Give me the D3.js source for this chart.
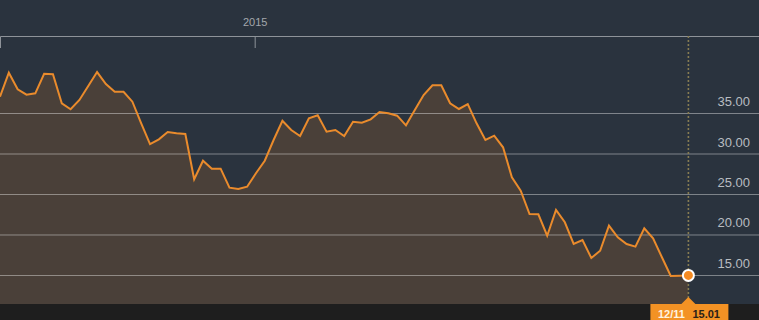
<!DOCTYPE html>
<html>
<head>
<meta charset="utf-8">
<script src="https://cdn.jsdelivr.net/npm/d3@7/dist/d3.min.js"></script>
<style>
  html, body { margin: 0; padding: 0; background: #2a333e; }
  svg { display: block; }
</style>
</head>
<body>
<div id="chart"></div>
<script>
const dates = [
  "2014-06-13","2014-06-20","2014-06-27","2014-07-04","2014-07-11","2014-07-18","2014-07-25",
  "2014-08-01","2014-08-08","2014-08-15","2014-08-22","2014-08-29","2014-09-05","2014-09-12",
  "2014-09-19","2014-09-26","2014-10-03","2014-10-10","2014-10-17","2014-10-24","2014-10-31",
  "2014-11-07","2014-11-14","2014-11-21","2014-11-28","2014-12-05","2014-12-12","2014-12-19",
  "2014-12-26","2015-01-02","2015-01-09","2015-01-16","2015-01-23","2015-01-30","2015-02-06",
  "2015-02-13","2015-02-20","2015-02-27","2015-03-06","2015-03-13","2015-03-20","2015-03-27",
  "2015-04-03","2015-04-10","2015-04-17","2015-04-24","2015-05-01","2015-05-08","2015-05-15",
  "2015-05-22","2015-05-29","2015-06-05","2015-06-12","2015-06-19","2015-06-26","2015-07-03",
  "2015-07-10","2015-07-17","2015-07-24","2015-07-31","2015-08-07","2015-08-14","2015-08-21",
  "2015-08-28","2015-09-04","2015-09-11","2015-09-18","2015-09-25","2015-10-02","2015-10-09",
  "2015-10-16","2015-10-23","2015-10-30","2015-11-06","2015-11-13","2015-11-20","2015-11-27",
  "2015-12-04","2015-12-11"
];
const prices = [
  37.07, 40.04, 37.99, 37.32, 37.49, 39.91, 39.84, 36.26, 35.52, 36.67,
  38.40, 40.12, 38.64, 37.69, 37.69, 36.46, 33.79, 31.23, 31.81, 32.72,
  32.56, 32.47, 26.88, 29.17, 28.19, 28.19, 25.84, 25.68, 25.96, 27.62,
  29.17, 31.73, 34.11, 32.96, 32.22, 34.41, 34.78, 32.75, 32.96, 32.22,
  33.99, 33.87, 34.28, 35.19, 35.02, 34.73, 33.54, 35.43, 37.28, 38.48,
  38.48, 36.26, 35.56, 36.17, 33.79, 31.73, 32.26, 30.83, 27.12, 25.47,
  22.59, 22.56, 19.91, 23.09, 21.57, 18.89, 19.38, 17.16, 18.06, 21.15,
  19.72, 18.89, 18.56, 20.83, 19.59, 17.25, 14.95, 14.97, 15.01
];
const yTicks = [15, 20, 25, 30, 35];
const xTickDates = ["2015-01-01"];
const xTickLabels = ["2015"];
const lastLabelDate = "12/11";
const lastLabelValue = "15.01";

const W = 759, H = 320;
const plotTop = 36, plotBottom = 304;
const parse = d3.timeParse("%Y-%m-%d");
const data = dates.map((d, i) => ({ date: parse(d), value: prices[i] }));

const x = d3.scaleTime()
  .domain([parse("2014-06-13"), parse("2016-02-05")])
  .range([0, W]);
const y = d3.scaleLinear()
  .domain([11.48, 44.57])
  .range([plotBottom, plotTop]);

const svg = d3.select("#chart").append("svg")
  .attr("width", W).attr("height", H);

svg.append("rect").attr("x", 0).attr("y", 0).attr("width", W).attr("height", H)
  .attr("fill", "#2a333e");

// area
const area = d3.area()
  .x(d => x(d.date))
  .y0(plotBottom)
  .y1(d => y(d.value));
svg.append("path").datum(data).attr("d", area).attr("fill", "#4a4039");

// gridlines
svg.append("g").selectAll("line").data(yTicks).join("line")
  .attr("x1", 0).attr("x2", W)
  .attr("y1", d => y(d)).attr("y2", d => y(d))
  .attr("stroke", "#ffffff").attr("stroke-opacity", 0.4).attr("stroke-width", 1);

// y labels
svg.append("g").selectAll("text").data(yTicks).join("text")
  .attr("x", 750).attr("y", d => y(d) - 7.5)
  .attr("text-anchor", "end")
  .attr("font-family", "'Liberation Sans', Arial, sans-serif")
  .attr("font-size", 13)
  .attr("fill", "#b8bcc1")
  .text(d => d.toFixed(2));

// line
const line = d3.line().x(d => x(d.date)).y(d => y(d.value));
svg.append("path").datum(data).attr("d", line)
  .attr("fill", "none").attr("stroke", "#ea8b2c").attr("stroke-width", 2);

// top axis
const xAxis = d3.axisTop(x)
  .tickValues(xTickDates.map(parse))
  .tickFormat((d, i) => xTickLabels[i])
  .tickSize(-12).tickSizeOuter(-12).tickPadding(10);
const gx = svg.append("g").attr("transform", `translate(0,${plotTop})`).call(xAxis);
gx.select(".domain").attr("stroke", "#8e9399");
gx.selectAll(".tick line").attr("stroke", "#8e9399");
gx.selectAll(".tick text")
  .attr("fill", "#a3a7ac")
  .attr("font-family", "'Liberation Sans', Arial, sans-serif")
  .attr("font-size", 11)
  .attr("dy", "0em");

// bottom band
svg.append("rect").attr("x", 0).attr("y", plotBottom).attr("width", W).attr("height", H - plotBottom)
  .attr("fill", "#1e1e1e");

const last = data[data.length - 1];
const lx = x(last.date), ly = y(last.value);

// dotted crosshair
svg.append("line")
  .attr("x1", lx).attr("x2", lx).attr("y1", plotTop).attr("y2", plotBottom)
  .attr("stroke", "#877c52").attr("stroke-width", 1.6).attr("stroke-dasharray", "2,2");

// marker
svg.append("circle").attr("cx", lx).attr("cy", ly).attr("r", 5.5)
  .attr("fill", "#f58b22").attr("stroke", "#ffffff").attr("stroke-width", 2);

// bottom label
const lab = svg.append("g");
lab.append("path")
  .attr("d", `M${lx - 7},${plotBottom} L${lx},${plotBottom - 7} L${lx + 7},${plotBottom} Z`)
  .attr("fill", "#f39224");
lab.append("rect").attr("x", lx - 38).attr("y", plotBottom).attr("width", 78).attr("height", H - plotBottom)
  .attr("fill", "#f39224");
lab.append("text").attr("x", lx - 30.5).attr("y", 318)
  .attr("font-family", "'Liberation Sans', Arial, sans-serif").attr("font-size", 11).attr("font-weight", "bold")
  .attr("fill", "#fff3e0").text(lastLabelDate);
lab.append("text").attr("x", lx + 4).attr("y", 318)
  .attr("font-family", "'Liberation Sans', Arial, sans-serif").attr("font-size", 11).attr("font-weight", "bold")
  .attr("fill", "#2a2118").text(lastLabelValue);
</script>
</body>
</html>
